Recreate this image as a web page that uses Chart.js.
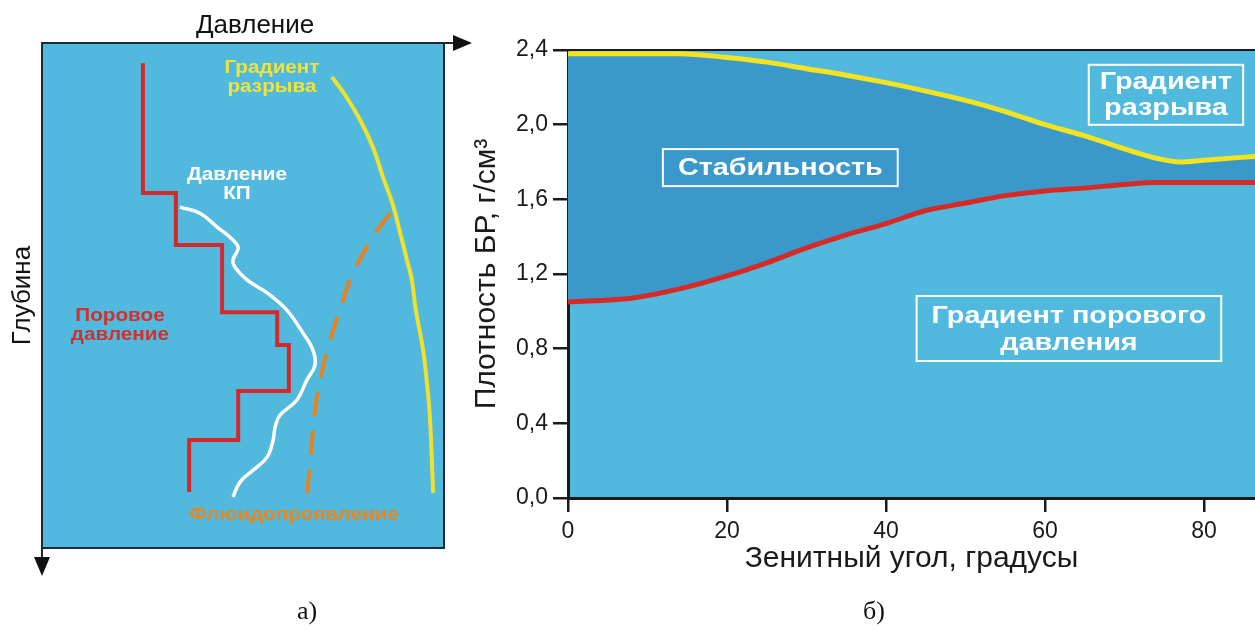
<!DOCTYPE html>
<html>
<head>
<meta charset="utf-8">
<script src="https://cdn.jsdelivr.net/npm/chart.js@4.4.1/dist/chart.umd.min.js"></script>
<style>
  body { margin: 0; background: #fff; width: 1255px; height: 633px; overflow: hidden; position: relative; }
  #left { position: absolute; left: 0; top: 0; width: 480px; height: 633px; }
  #right { position: absolute; left: 455px; top: 0; width: 800px; height: 633px; }
  .cap { position: absolute; top: 596px; font: 26px "Liberation Serif", serif; color: #111; }
</style>
</head>
<body>
<div id="left"><canvas id="chartA"></canvas></div>
<div id="right"><canvas id="chartB"></canvas></div>
<div class="cap" style="left:297px">а)</div>
<div class="cap" style="left:863px">б)</div>
<script>
// ---- panel б: density window vs inclination ----
const angles   = [0, 8, 14, 20, 25, 30, 35, 40, 45, 50, 55, 60, 65, 70, 74, 77, 80, 86.4];
const fracGrad = [2.38, 2.38, 2.38, 2.36, 2.335, 2.30, 2.265, 2.225, 2.18, 2.13, 2.07, 2.0, 1.94, 1.87, 1.82, 1.80, 1.81, 1.83];
const poreGrad = [1.05, 1.07, 1.12, 1.19, 1.26, 1.34, 1.41, 1.47, 1.54, 1.58, 1.62, 1.645, 1.66, 1.68, 1.69, 1.69, 1.69, 1.69];
const yTicks   = [0, 0.4, 0.8, 1.2, 1.6, 2.0, 2.4];

// ---- panel а: schematic pressure vs depth (relative units 0..100) ----
const poreX  = [25.1, 25.1, 33.3, 33.3, 44.8, 44.8, 58.5, 58.5, 61.4, 61.4, 48.8, 48.8, 36.6, 36.6];
const poreY  = [4.0, 29.7, 29.7, 40.0, 40.0, 53.3, 53.3, 59.8, 59.8, 68.9, 68.9, 78.6, 78.6, 88.9];
const ecdX   = [34.3, 39.3, 43.5, 47.5, 48.8, 47.5, 48.0, 51.0, 56.0, 60.9, 64.9, 67.4, 67.9, 65.9, 63.4, 59.2, 58.0, 57.5, 56.0, 52.5, 49.3, 47.5];
const ecdY   = [32.5, 33.7, 36.4, 39.0, 40.6, 43.0, 44.4, 46.9, 49.5, 52.9, 57.4, 60.8, 63.8, 66.7, 70.7, 73.7, 76.0, 78.6, 82.0, 84.6, 86.9, 89.9];
const kickX  = [86.6, 82.3, 77.4, 74.9, 71.2, 69.2, 67.9, 67.2, 65.9];
const kickY  = [33.7, 38.4, 45.5, 50.9, 60.2, 66.7, 72.7, 78.6, 89.9];
const fracX  = [72.1, 75.4, 79.1, 82.3, 84.8, 87.3, 89.1, 90.8, 92.0, 93.0, 94.8, 95.8, 96.5, 97.3];
const fracY  = [6.7, 10.3, 15.2, 20.6, 26.5, 32.1, 37.6, 43.0, 46.9, 52.9, 60.8, 67.7, 74.1, 89.1];

const LIGHT = '#51b9de';
const DARK = '#3a98cb';
const FONT = '"Liberation Sans", Arial, sans-serif';

function pts(xs, ys) { return xs.map((x, i) => ({x: x, y: ys[i]})); }

function putText(ctx, lines, x, y, font, color, sx, lh, rot) {
  ctx.save();
  ctx.translate(x, y);
  if (rot) ctx.rotate(rot);
  ctx.scale(sx, 1);
  ctx.font = font;
  ctx.fillStyle = color;
  ctx.textAlign = 'center';
  ctx.textBaseline = 'middle';
  const top = -(lines.length - 1) * lh / 2;
  lines.forEach((t, i) => ctx.fillText(t, 0, top + i * lh));
  ctx.restore();
}

// labels of panel а, anchored in data units
const leftLabels = [
  {lines: ['Градиент', 'разрыва'], x: 57.2, y: 6.9, color: '#f2e33a'},
  {lines: ['Давление', 'КП'], x: 48.5, y: 28.0, color: '#ffffff'},
  {lines: ['Поровое', 'давление'], x: 19.4, y: 55.9, color: '#d3302c'},
  {lines: ['Флюидопроявление'], x: 62.7, y: 93.5, color: '#e8861f'}
];

const schemePlugin = {
  id: 'scheme',
  beforeDraw(chart) {
    const {ctx, chartArea: a} = chart;
    ctx.save();
    ctx.fillStyle = LIGHT;
    ctx.fillRect(a.left, a.top, a.right - a.left, a.bottom - a.top);
    ctx.restore();
  },
  afterDatasetsDraw(chart) {
    const {ctx, chartArea: a, scales: {x, y}} = chart;
    ctx.save();
    ctx.strokeStyle = '#1b2a33';
    ctx.lineWidth = 2;
    ctx.strokeRect(a.left, a.top, a.right - a.left, a.bottom - a.top);
    // pressure axis arrow (top, to the right)
    ctx.fillStyle = '#111';
    ctx.beginPath();
    ctx.moveTo(a.right, a.top); ctx.lineTo(a.right + 12, a.top);
    ctx.stroke();
    ctx.beginPath();
    ctx.moveTo(a.right + 28, a.top);
    ctx.lineTo(a.right + 9, a.top - 8);
    ctx.lineTo(a.right + 9, a.top + 8);
    ctx.closePath(); ctx.fill();
    // depth axis arrow (left, downward)
    ctx.beginPath();
    ctx.moveTo(a.left, a.bottom); ctx.lineTo(a.left, a.bottom + 12);
    ctx.stroke();
    ctx.beginPath();
    ctx.moveTo(a.left, a.bottom + 28);
    ctx.lineTo(a.left - 8, a.bottom + 9);
    ctx.lineTo(a.left + 8, a.bottom + 9);
    ctx.closePath(); ctx.fill();
    ctx.restore();

    putText(ctx, ['Давление'], x.getPixelForValue(53), y.getPixelForValue(-3.4), '26px ' + FONT, '#111', 1, 26);
    putText(ctx, ['Глубина'], x.getPixelForValue(-4.7), y.getPixelForValue(50), '26px ' + FONT, '#111', 1, 26, -Math.PI / 2);
    leftLabels.forEach(l => {
      putText(ctx, l.lines, x.getPixelForValue(l.x), y.getPixelForValue(l.y), 'bold 18px ' + FONT, l.color, 1.15, 19);
    });
  }
};

new Chart(document.getElementById('chartA'), {
  type: 'scatter',
  data: {
    datasets: [
      {label: 'Поровое давление', data: pts(poreX, poreY), showLine: true, borderColor: '#d4292a', borderWidth: 4, pointRadius: 0, tension: 0},
      {label: 'Давление КП', data: pts(ecdX, ecdY), showLine: true, borderColor: '#ffffff', borderWidth: 3.5, pointRadius: 0, tension: 0.4},
      {label: 'Флюидопроявление', data: pts(kickX, kickY), showLine: true, borderColor: '#e8821e', borderWidth: 4, borderDash: [24, 15], pointRadius: 0, tension: 0.4},
      {label: 'Градиент разрыва', data: pts(fracX, fracY), showLine: true, borderColor: '#f0e12c', borderWidth: 4, pointRadius: 0, tension: 0.4}
    ]
  },
  options: {
    responsive: true,
    maintainAspectRatio: false,
    animation: false,
    layout: {padding: {left: 42, top: 43, right: 36, bottom: 85}},
    plugins: {legend: {display: false}, tooltip: {enabled: false}},
    scales: {
      x: {display: false, min: 0, max: 100},
      y: {display: false, min: 0, max: 100, reverse: true}
    }
  },
  plugins: [schemePlugin]
});

// boxed labels of panel б, anchored in data units
const rightLabels = [
  {lines: ['Стабильность'], x: 26.7, y: 1.77, padX: 15, padY: 4.5, lh: 28},
  {lines: ['Градиент', 'разрыва'], x: 75.2, y: 2.16, padX: 11, padY: 4, lh: 26},
  {lines: ['Градиент порового', 'давления'], x: 63, y: 0.908, padX: 15, padY: 5.5, lh: 27}
];

const windowPlugin = {
  id: 'window',
  beforeDraw(chart) {
    const {ctx, chartArea: a} = chart;
    ctx.save();
    ctx.fillStyle = LIGHT;
    ctx.fillRect(a.left, a.top, a.right - a.left, a.bottom - a.top);
    ctx.restore();
  },
  afterDraw(chart) {
    const {ctx, chartArea: a, scales: {x, y}} = chart;
    ctx.save();
    ctx.strokeStyle = '#1a1a1a';
    ctx.lineWidth = 2;
    ctx.beginPath();
    ctx.moveTo(a.left, a.top); ctx.lineTo(a.right, a.top);
    ctx.stroke();

    const sx = 1.2;
    ctx.font = 'bold 24px ' + FONT;
    rightLabels.forEach(l => {
      const cx = x.getPixelForValue(l.x), cy = y.getPixelForValue(l.y);
      const w = Math.max(...l.lines.map(t => ctx.measureText(t).width)) * sx + 2 * l.padX;
      const h = l.lines.length * l.lh + 2 * l.padY;
      ctx.strokeStyle = '#ffffff';
      ctx.lineWidth = 2;
      ctx.strokeRect(cx - w / 2, cy - h / 2, w, h);
      putText(ctx, l.lines, cx, cy + 1, 'bold 24px ' + FONT, '#ffffff', sx, l.lh);
    });
    ctx.restore();
  }
};

new Chart(document.getElementById('chartB'), {
  type: 'line',
  data: {
    datasets: [
      {label: 'Градиент порового давления', data: pts(angles, poreGrad), borderColor: '#d72a26', borderWidth: 5, pointRadius: 0, fill: false, cubicInterpolationMode: 'monotone'},
      {label: 'Градиент разрыва', data: pts(angles, fracGrad), borderColor: '#f3e41f', borderWidth: 5, pointRadius: 0, fill: '-1', backgroundColor: DARK, cubicInterpolationMode: 'monotone'}
    ]
  },
  options: {
    responsive: true,
    maintainAspectRatio: false,
    animation: false,
    layout: {padding: {top: 50, right: 0, left: 0, bottom: 0}},
    plugins: {legend: {display: false}, tooltip: {enabled: false}},
    scales: {
      x: {
        type: 'linear', min: 0, max: 86.4, z: 1,
        afterFit: s => { s.height = 135; },
        border: {display: true, color: '#1a1a1a', width: 3},
        grid: {drawOnChartArea: false, drawTicks: true, tickLength: 14, lineWidth: 2.5, color: '#1a1a1a'},
        ticks: {stepSize: 20, includeBounds: false, padding: 6, maxRotation: 0, color: '#1a1a1a', font: {family: FONT, size: 23}},
        title: {display: true, text: 'Зенитный угол, градусы', color: '#1a1a1a', padding: {top: 0, bottom: 56}, font: {family: FONT, size: 30, lineHeight: 1.2}}
      },
      y: {
        min: 0, max: 2.4, z: 1,
        afterFit: s => { s.width = 113; },
        afterBuildTicks: s => { s.ticks = yTicks.map(v => ({value: v})); },
        border: {display: true, color: '#1a1a1a', width: 3},
        grid: {drawOnChartArea: false, drawTicks: true, tickLength: 15, lineWidth: 2.5, color: '#1a1a1a'},
        ticks: {padding: 5, color: '#1a1a1a', font: {family: FONT, size: 23}, callback: v => v.toFixed(1).replace('.', ',')},
        title: {display: true, text: 'Плотность БР, г/см³', color: '#1a1a1a', padding: {top: 14, bottom: 0}, font: {family: FONT, size: 30, lineHeight: 1.2}}
      }
    }
  },
  plugins: [windowPlugin]
});
</script>
</body>
</html>
